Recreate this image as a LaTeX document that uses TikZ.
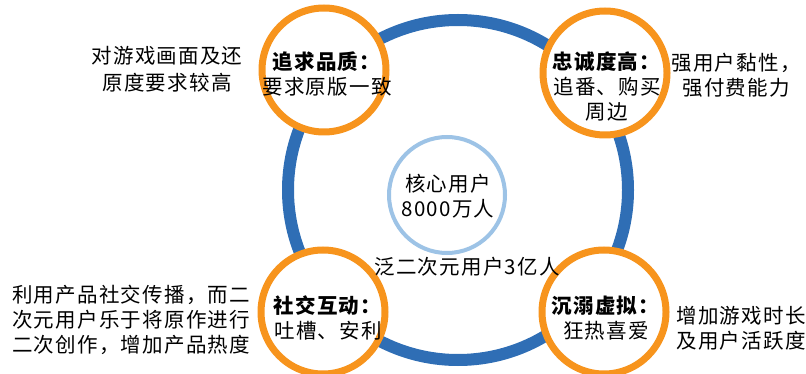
\documentclass[tikz,border=0pt]{standalone}
\usepackage{fontspec}
\setmainfont[LetterSpace=6]{Noto Sans CJK SC}
\definecolor{ringblue}{HTML}{2F6EB5}
\definecolor{lightring}{HTML}{9DC3E6}
\definecolor{orangering}{HTML}{F7941D}
\tikzset{
  bigring/.style={circle, draw=ringblue, line width=12pt, minimum size=340pt, inner sep=0pt},
  corering/.style={circle, draw=lightring, line width=4pt, fill=white, minimum size=116pt, inner sep=0pt},
  facet/.style={circle, draw=orangering, line width=7pt, fill=white, minimum size=124pt, inner sep=0pt},
  txt/.style={font=\fontsize{20.5}{25}\selectfont, align=center, inner sep=0pt, text=black},
  ltxt/.style={font=\fontsize{20.5}{25}\selectfont, align=left, inner sep=0pt, text=black}
}
\begin{document}
\begin{tikzpicture}[x=1pt,y=-1pt]
\useasboundingbox (0,0) rectangle (806,374);
\node[bigring] (ring) at (458,190) {};
\node[corering] (core) at (447,195) {};
\node[facet] (f1) at (324,70) {};
\node[facet] (f2) at (605,73) {};
\node[facet] (f3) at (323,312) {};
\node[facet] (f4) at (604,312) {};
\node[txt] (coretxt) at (448,196) {核心用户\\8000万人};
\node[txt] (all) at (467,267) {泛二次元用户3亿人};
\node[txt] (t1) at (327,74) {\textbf{追求品质：}\\要求原版一致};
\node[txt] (t2) at (607,87) {\textbf{忠诚度高：}\\追番、购买\\周边};
\node[txt] (t3) at (328,318) {\textbf{社交互动：}\\吐槽、安利};
\node[txt] (t4) at (606,318) {\textbf{沉溺虚拟：}\\狂热喜爱};
\node[txt, font=\fontsize{20.5}{27}\selectfont] (d1) at (167,69) {对游戏画面及还\\原度要求较高};
\node[txt] (d2) at (736,75) {强用户黏性，\\强付费能力};
\node[txt] (d4) at (741,328) {增加游戏时长\\及用户活跃度};
\node[ltxt, anchor=west] (d3) at (12,320) {利用产品社交传播，而二\\次元用户乐于将原作进行\\二次创作，增加产品热度};
\end{tikzpicture}
\end{document}
